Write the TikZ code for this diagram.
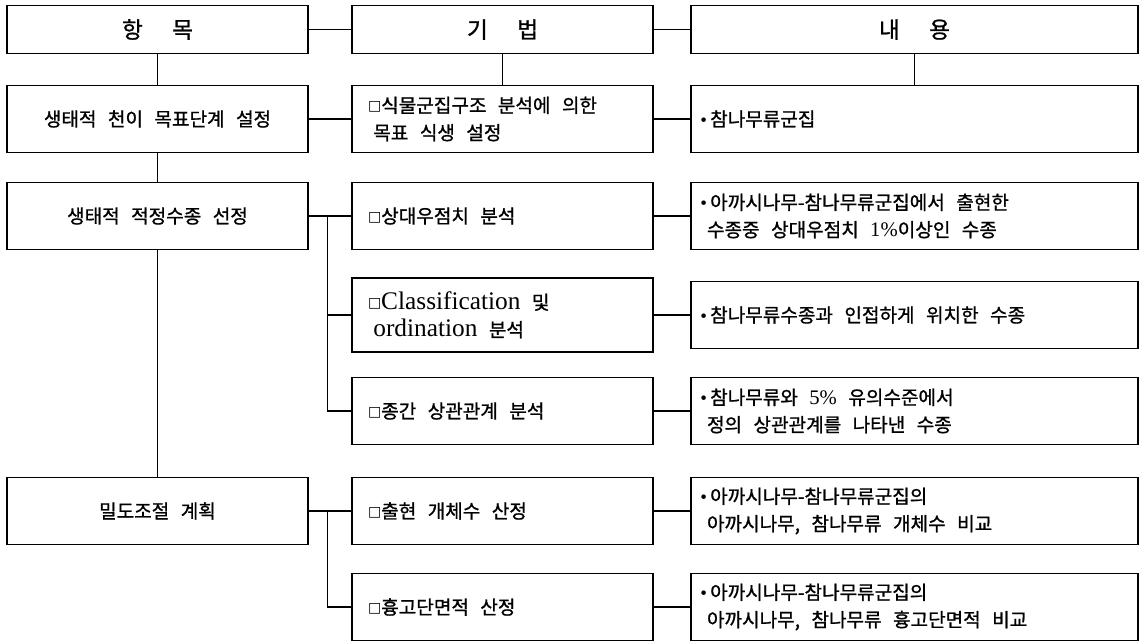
\documentclass[tikz,border=0pt]{standalone}
\usepackage{fontspec}
\setmainfont{Noto Sans CJK KR}[FakeBold=1]
\newfontfamily\latfont{Liberation Serif}
\newfontfamily\symfont{DejaVu Sans}
\usetikzlibrary{calc}
\newcommand{\korfont}{\fontsize{14.3}{20.5}\selectfont}
\newcommand{\korspace}{\spaceskip=0.6em plus 0.1em\relax}
\newcommand{\sqmark}{\raisebox{1.2pt}{\symfont\fontsize{10.5}{10.5}\selectfont □}}
\newcommand{\dotmark}{{\latfont •}\,}
\newcommand{\lat}[1]{{\latfont\fontsize{19}{20}\selectfont\spaceskip=0pt\relax #1}}
\newcommand{\pct}[1]{{\latfont\fontsize{15.5}{20}\selectfont #1}}

\tikzset{
  every node/.style={font=\korfont, execute at begin node=\korspace},
  hbox/.style={draw, line width=1.1pt, minimum height=36pt, inner sep=0pt, font=\fontsize{17}{20}\selectfont},
  ibox/.style={draw, line width=1.1pt, minimum width=225.75pt, minimum height=50.25pt, inner sep=0pt},
  mbox/.style={draw, line width=1.1pt, text width=201.75pt, align=left, inner xsep=12pt, inner ysep=0pt, minimum height=50.25pt},
  cbox/.style={draw, line width=1.1pt, text width=321.25pt, align=left, inner xsep=7pt, inner ysep=0pt, minimum height=50.25pt},
  link/.style={line width=0.8pt}
}

\begin{document}
\begin{tikzpicture}[x=0.75pt,y=0.75pt,yscale=-1,xscale=1]
\useasboundingbox (0,0) rectangle (1145,643);

% Header
\node[hbox, minimum width=225.75pt] (h1) at (157.5,29.5) {항\hspace{22pt}목};
\node[hbox, minimum width=225.75pt] (h2) at (502.5,29.5) {기\hspace{22pt}법};
\node[hbox, minimum width=335.25pt] (h3) at (914.5,29.5) {내\hspace{22pt}용};

% Items
\node[ibox] (a1) at (157.5,119) {생태적 천이 목표단계 설정};
\node[ibox] (a2) at (157.5,216) {생태적 적정수종 선정};
\node[ibox] (a3) at (157.5,511) {밀도조절 계획};

% Methods
\node[mbox] (b1) at (502.5,119) {\sqmark{}식물군집구조 분석에 의한\\\hspace*{4pt}목표 식생 설정};
\node[mbox] (b2) at (502.5,216) {\sqmark{}상대우점치 분석};
\node[mbox, minimum height=55.5pt] (b3) at (502.5,315) {\sqmark{}\lat{Classification} 및\\\hspace*{4pt}\lat{ordination} 분석};
\node[mbox] (b4) at (502.5,411) {\sqmark{}종간 상관관계 분석};
\node[mbox] (b5) at (502.5,511) {\sqmark{}출현 개체수 산정};
\node[mbox] (b6) at (502.5,607) {\sqmark{}흉고단면적 산정};

% Contents
\node[cbox] (c1) at (914.5,119) {\dotmark{}참나무류군집};
\node[cbox] (c2) at (914.5,216) {\dotmark{}아까시나무-참나무류군집에서 출현한\\\hspace*{5pt}수종중 상대우점치 \pct{1\%}이상인 수종};
\node[cbox] (c3) at (914.5,315) {\dotmark{}참나무류수종과 인접하게 위치한 수종};
\node[cbox] (c4) at (914.5,411) {\dotmark{}참나무류와 \pct{5\%} 유의수준에서\\\hspace*{5pt}정의 상관관계를 나타낸 수종};
\node[cbox] (c5) at (914.5,511) {\dotmark{}아까시나무-참나무류군집의\\\hspace*{5pt}아까시나무, 참나무류 개체수 비교};
\node[cbox] (c6) at (914.5,607) {\dotmark{}아까시나무-참나무류군집의\\\hspace*{5pt}아까시나무, 참나무류 흉고단면적 비교};

% Header links
\draw[link] (h1.east) -- (h2.west);
\draw[link] (h2.east) -- (h3.west);
\draw[link] (h1.south) -- (a1.north);
\draw[link] (h2.south) -- (b1.north);
\draw[link] (h3.south) -- (c1.north);

% Item column
\draw[link] (a1.south) -- (a2.north);
\draw[link] (a2.south) -- (a3.north);

% Item to method
\draw[link] (a1.east) -- (b1.west);
\coordinate (j1) at ($(a2.east)!0.45!(b2.west)$);
\draw[link] (a2.east) -- (b2.west);
\draw[link] (j1) |- (b3.west);
\draw[link] (j1) |- (b4.west);
\coordinate (j2) at ($(a3.east)!0.45!(b5.west)$);
\draw[link] (a3.east) -- (b5.west);
\draw[link] (j2) |- (b6.west);

% Method to content
\foreach \i in {1,...,6}
  \draw[link] (b\i.east) -- (c\i.west);

\end{tikzpicture}
\end{document}
